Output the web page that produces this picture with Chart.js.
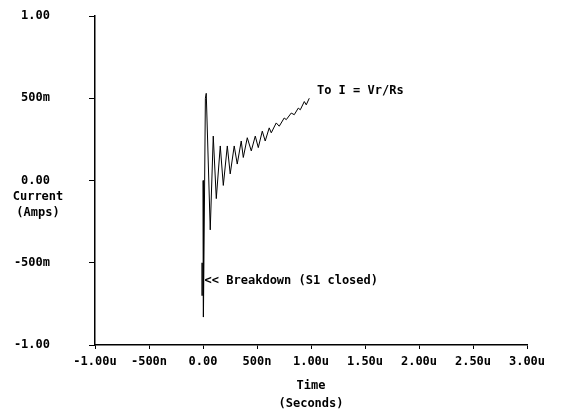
<!DOCTYPE html>
<html><head><meta charset="utf-8">
<script src="https://cdn.jsdelivr.net/npm/chart.js@4/dist/chart.umd.min.js"></script>
<style>html,body{margin:0;padding:0;background:#fff}#c{display:block}</style>
</head><body>
<div style="width:564px;height:411px"><canvas id="c" width="564" height="411"></canvas></div>
<script>
const timeUs = [0.000,0.004,0.022,0.030,0.067,0.095,0.123,0.160,0.188,0.225,0.252,0.289,0.317,0.354,0.373,0.410,0.447,0.484,0.512,0.549,0.576,0.613,0.632,0.678,0.706,0.752,0.771,0.817,0.845,0.882,0.901,0.938,0.956,0.984];
const currentA = [0.00,-0.83,0.50,0.53,-0.30,0.27,-0.11,0.21,-0.03,0.21,0.04,0.21,0.10,0.24,0.14,0.26,0.18,0.27,0.20,0.30,0.24,0.32,0.29,0.35,0.33,0.38,0.37,0.41,0.40,0.44,0.43,0.48,0.46,0.50];
const markerTime = [0, 0];
const markerCurrent = [-0.50, -0.70];
const xTickLabels = ["-1.00u","-500n","0.00","500n","1.00u","1.50u","2.00u","2.50u","3.00u"];
const yTickLabels = ["-1.00","-500m","0.00","500m","1.00"];
const FONT = "bold 12px 'DejaVu Sans Mono'";

const textPlugin = {
  id: 'texts',
  afterDraw(chart) {
    const ctx = chart.ctx, xs = chart.scales.x, ys = chart.scales.y, a = chart.chartArea;
    ctx.save();
    ctx.font = FONT; ctx.fillStyle = '#000';
    ctx.textBaseline = 'middle';
    ctx.textAlign = 'center';
    const cx = (a.left + a.right) / 2;
    ctx.fillText('Time', cx, 386);
    ctx.fillText('(Seconds)', cx, 404);
    ctx.fillText('Current', 38, 197);
    ctx.fillText('(Amps)', 38, 213);
    ctx.textAlign = 'left';
    ctx.fillText('To I = Vr/Rs', xs.getPixelForValue(1.055), ys.getPixelForValue(0.545));
    ctx.fillText('<< Breakdown (S1 closed)', xs.getPixelForValue(0.015), ys.getPixelForValue(-0.61));
    ctx.restore();
  }
};

new Chart(document.getElementById('c'), {
  type: 'scatter',
  data: { datasets: [
    { data: timeUs.map((t,i)=>({x:t,y:currentA[i]})), showLine: true, borderColor: '#000', borderWidth: 1, pointRadius: 0, tension: 0 },
    { data: markerTime.map((t,i)=>({x:t-0.008,y:markerCurrent[i]})), showLine: true, borderColor: '#000', borderWidth: 1.5, pointRadius: 0 }
  ]},
  options: {
    responsive: false, animation: false, devicePixelRatio: 1,
    layout: { padding: { left: 0, right: 37, top: 16, bottom: 0 } },
    plugins: { legend: { display: false }, tooltip: { enabled: false } },
    scales: {
      x: { type: 'linear', min: -1, max: 3,
        afterBuildTicks: s => { s.ticks = xTickLabels.map((l,i)=>({value: -1 + 0.5*i})); },
        afterFit: s => { s.height = 66; s.paddingLeft = 0; s.paddingRight = 0; },
        ticks: { color: '#000', font: { family: 'DejaVu Sans Mono', size: 12, weight: 'bold' }, padding: 6, maxRotation: 0, autoSkip: false,
          callback: (v, i) => xTickLabels[i] },
        grid: { drawOnChartArea: false, drawTicks: true, tickLength: 4, color: '#000', lineWidth: 1 },
        border: { color: '#000', width: 1.5 }
      },
      y: { type: 'linear', min: -1, max: 1,
        afterBuildTicks: s => { s.ticks = yTickLabels.map((l,i)=>({value: -1 + 0.5*i})); },
        afterFit: s => { s.width = 95; s.paddingTop = 0; s.paddingBottom = 0; },
        ticks: { color: '#000', font: { family: 'DejaVu Sans Mono', size: 12, weight: 'bold' }, padding: 39, autoSkip: false,
          callback: (v, i) => yTickLabels[i] },
        grid: { drawOnChartArea: false, drawTicks: true, tickLength: 6, color: '#000', lineWidth: 1 },
        border: { color: '#000', width: 1.5 }
      }
    }
  },
  plugins: [textPlugin]
});
</script>
</body></html>
